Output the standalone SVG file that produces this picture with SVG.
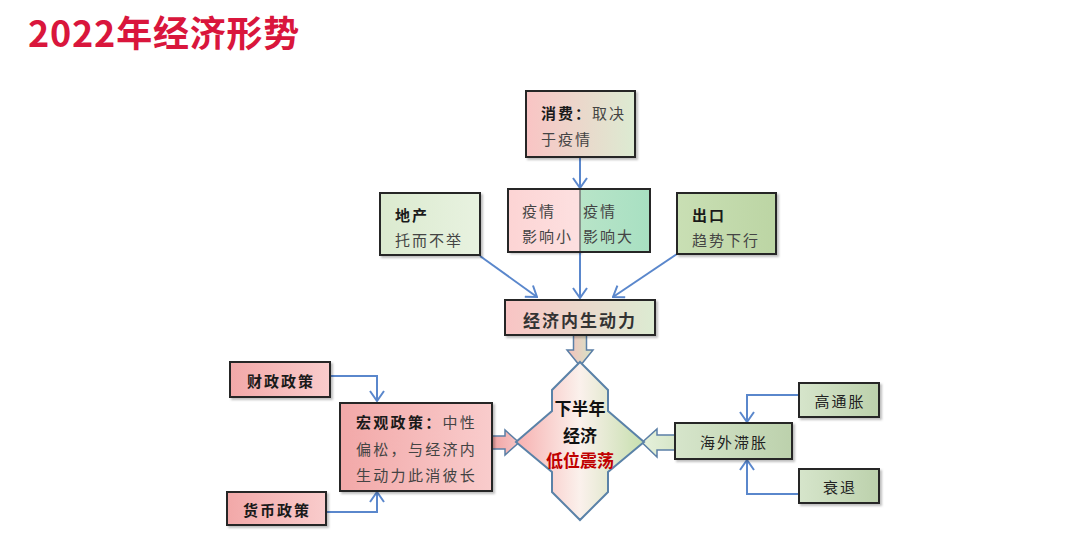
<svg xmlns="http://www.w3.org/2000/svg" width="1080" height="551" viewBox="0 0 1080 551">
<style>
text{font-family:"Noto Sans CJK SC","Noto Sans",sans-serif;dominant-baseline:central}
.box{stroke:#262626;stroke-width:2}
.t{font-size:15px;fill:#444;letter-spacing:2px}
.b{font-weight:bold;fill:#1a1a1a}
.c{text-anchor:middle}
.con{fill:none;stroke:#5a87cc;stroke-width:2;marker-end:url(#ah)}
.blk{stroke:#5b7fa6;stroke-width:1.5}
</style>
<defs>
<marker id="ah" viewBox="0 0 12 16" refX="11" refY="8" markerWidth="12" markerHeight="16" markerUnits="userSpaceOnUse" orient="auto">
<path d="M1,1 L11,8 L1,15" fill="none" stroke="#5a87cc" stroke-width="2"/>
</marker>
<filter id="sh" x="-10%" y="-10%" width="130%" height="140%">
<feDropShadow dx="2" dy="2" stdDeviation="1.2" flood-color="#000" flood-opacity="0.25"/>
</filter>
<linearGradient id="gPG" x1="0" x2="1" y1="0" y2="0"><stop offset="0" stop-color="#f9c4c4"/><stop offset="1" stop-color="#dcebd2"/></linearGradient>
<linearGradient id="gPink" x1="0" x2="1" y1="0" y2="0"><stop offset="0" stop-color="#f2a8a8"/><stop offset="1" stop-color="#f9cccc"/></linearGradient>
<linearGradient id="gLG" x1="0" x2="1" y1="0" y2="0"><stop offset="0" stop-color="#dbeacf"/><stop offset="1" stop-color="#e8f2e0"/></linearGradient>
<linearGradient id="gG" x1="0" x2="1" y1="0" y2="0"><stop offset="0" stop-color="#c9dfb4"/><stop offset="1" stop-color="#bcd5a4"/></linearGradient>
<linearGradient id="gGG" x1="0" x2="1" y1="0" y2="0"><stop offset="0" stop-color="#d6e5cb"/><stop offset="1" stop-color="#bcd1ac"/></linearGradient>
<linearGradient id="gSL" x1="0" x2="1" y1="0" y2="0"><stop offset="0" stop-color="#fcd4d4"/><stop offset="1" stop-color="#fde0e0"/></linearGradient>
<linearGradient id="gSR" x1="0" x2="1" y1="0" y2="0"><stop offset="0" stop-color="#b8e4c8"/><stop offset="1" stop-color="#a8e0c2"/></linearGradient>
<linearGradient id="gDia" x1="0" x2="1" y1="0" y2="0"><stop offset="0" stop-color="#f7b0b0"/><stop offset="0.5" stop-color="#fbf1ec"/><stop offset="1" stop-color="#c6dfae"/></linearGradient>
<linearGradient id="gAT" x1="0" x2="1" y1="0" y2="0"><stop offset="0" stop-color="#f4c0bc"/><stop offset="1" stop-color="#d6e4c6"/></linearGradient>
<linearGradient id="gAL" x1="0" x2="1" y1="0" y2="0"><stop offset="0" stop-color="#f0a4a4"/><stop offset="1" stop-color="#f7c6c6"/></linearGradient>
<linearGradient id="gAR" x1="0" x2="1" y1="0" y2="0"><stop offset="0" stop-color="#e6f1dc"/><stop offset="1" stop-color="#d6e6c8"/></linearGradient>
</defs>
<rect width="1080" height="551" fill="#fff"/>
<text x="28" y="31" font-size="36" font-weight="bold" fill="#d9163c" style="letter-spacing:0.8px">2022年经济形势</text>

<g id="connectors">
<path class="con" d="M580,157 L580,188"/>
<path class="con" d="M580,252 L580,298"/>
<path class="con" d="M480,256 L537,297"/>
<path class="con" d="M677,254 L613,297"/>
<path class="con" d="M330,376 L377,376 L377,401"/>
<path class="con" d="M326,512 L377,512 L377,492"/>
<path class="con" d="M799,395 L747,395 L747,422"/>
<path class="con" d="M799,494 L747,494 L747,460"/>
<path class="blk" fill="url(#gAT)" d="M573.5,335 L586.5,335 L586.5,350 L593,350 L580,366 L567,350 L573.5,350 Z"/>
<path class="blk" fill="url(#gAL)" d="M492,436 L505,436 L505,430 L519,442.5 L505,455 L505,449 L492,449 Z"/>
<path class="blk" fill="url(#gAR)" d="M675,435 L657,435 L657,429 L642,442.5 L657,457 L657,450 L675,450 Z"/>
</g>

<g id="n-consume">
<rect class="box" x="526" y="91" width="109" height="66" fill="url(#gPG)" filter="url(#sh)"/>
<text class="t" x="541" y="112"><tspan class="b">消费：</tspan>取决</text>
<text class="t" x="541" y="138">于疫情</text>
</g>

<g id="n-epidemic">
<rect x="508" y="189" width="72" height="63" fill="url(#gSL)" filter="url(#sh)"/>
<rect x="580" y="189" width="70" height="63" fill="url(#gSR)"/>
<line x1="580" y1="189" x2="580" y2="252" stroke="#777" stroke-width="1.5"/>
<rect class="box" x="508" y="189" width="142" height="63" fill="none"/>
<text class="t" x="522" y="210">疫情</text>
<text class="t" x="522" y="235">影响小</text>
<text class="t" x="583" y="210">疫情</text>
<text class="t" x="583" y="235">影响大</text>
</g>

<g id="n-estate">
<rect class="box" x="380" y="193" width="100" height="62" fill="url(#gLG)" filter="url(#sh)"/>
<text class="t b" x="395" y="214">地产</text>
<text class="t" x="395" y="239">托而不举</text>
</g>

<g id="n-export">
<rect class="box" x="677" y="193" width="99" height="61" fill="url(#gG)" filter="url(#sh)"/>
<text class="t b" x="692" y="214">出口</text>
<text class="t" x="692" y="239">趋势下行</text>
</g>

<g id="n-endogenous">
<rect class="box" x="505" y="300" width="150" height="35" fill="url(#gPG)" filter="url(#sh)"/>
<text class="t b c" x="580" y="319" style="font-size:17px;letter-spacing:2px;fill:#333">经济内生动力</text>
</g>

<g id="n-fiscal">
<rect class="box" x="230" y="362" width="100" height="35" fill="url(#gPink)" filter="url(#sh)"/>
<text class="t b c" x="281" y="380">财政政策</text>
</g>

<g id="n-monetary">
<rect class="box" x="227" y="492" width="99" height="33" fill="url(#gPink)" filter="url(#sh)"/>
<text class="t b c" x="277" y="509">货币政策</text>
</g>

<g id="n-macro">
<rect class="box" x="340" y="403" width="152" height="88" fill="url(#gPink)" filter="url(#sh)"/>
<text class="t" x="356" y="421" style="letter-spacing:2.3px"><tspan class="b">宏观政策：</tspan>中性</text>
<text class="t" x="356" y="448" style="letter-spacing:2.3px">偏松，与经济内</text>
<text class="t" x="356" y="474" style="letter-spacing:2.3px">生动力此消彼长</text>
</g>

<g id="n-center">
<path d="M580,362 L608,390 L608,411 L644,442 L608,472 L608,492 L580,520 L552,492 L552,472 L516,442 L552,411 L552,390 Z" fill="url(#gDia)" stroke="#5a82a8" stroke-width="2"/>
<text class="c" x="580" y="407" font-size="17" font-weight="bold" fill="#111">下半年</text>
<text class="c" x="580" y="434" font-size="17" font-weight="bold" fill="#111">经济</text>
<text class="c" x="580" y="459" font-size="17" font-weight="bold" fill="#c00000">低位震荡</text>
</g>

<g id="n-overseas">
<rect class="box" x="675" y="423" width="117" height="36" fill="url(#gGG)" filter="url(#sh)"/>
<text class="t b c" x="734" y="441" style="font-weight:normal;fill:#222">海外滞胀</text>
</g>

<g id="n-inflation">
<rect class="box" x="799" y="383" width="80" height="34" fill="url(#gGG)" filter="url(#sh)"/>
<text class="t c" x="840" y="400" style="fill:#222">高通胀</text>
</g>

<g id="n-recession">
<rect class="box" x="799" y="469" width="80" height="34" fill="url(#gGG)" filter="url(#sh)"/>
<text class="t c" x="840" y="486" style="fill:#222">衰退</text>
</g>
</svg>
